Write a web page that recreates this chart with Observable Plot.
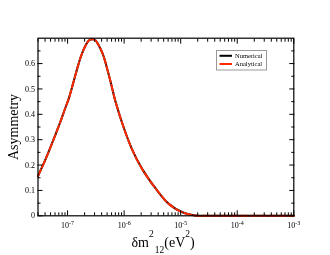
<!DOCTYPE html>
<html><head><meta charset="utf-8">
<script src="https://cdn.jsdelivr.net/npm/d3@7"></script>
<script src="https://cdn.jsdelivr.net/npm/@observablehq/plot@0.6"></script>
<style>body{margin:0;background:#fff}#chart svg{display:block}#chart{will-change:transform}</style>
</head><body><div id="chart"></div>
<script>
// δm²₁₂ values (eV²)
const deltaM = [3.0e-8, 4.07e-8, 5.37e-8, 7.59e-8, 8.92e-8, 1.05e-7, 1.25e-7, 1.48e-7, 1.75e-7, 2.09e-7,
  2.38e-7, 2.75e-7, 3.13e-7, 3.55e-7, 4.25e-7, 5.01e-7, 5.96e-7, 7.08e-7, 1.0e-6, 1.38e-6, 2.09e-6,
  3.63e-6, 6.17e-6, 1.07e-5, 1.82e-5, 3.16e-5, 1e-4, 1e-3];
const numerical = [0.157, 0.222, 0.288, 0.375, 0.419, 0.462, 0.521, 0.58, 0.632, 0.672,
  0.691, 0.696, 0.691, 0.672, 0.634, 0.58, 0.515, 0.448, 0.343, 0.262, 0.184,
  0.107, 0.047, 0.014, 0.001, 0.0, 0.0, 0.0];
const analytical = [0.157, 0.222, 0.288, 0.375, 0.419, 0.462, 0.521, 0.58, 0.632, 0.672,
  0.691, 0.696, 0.691, 0.672, 0.634, 0.58, 0.515, 0.448, 0.343, 0.262, 0.184,
  0.107, 0.047, 0.014, 0.001, 0.0, 0.0, 0.0];
const seriesNames = ["Numerical", "Analytical"];
const xMajorTicks = [1e-7, 1e-6, 1e-5, 1e-4, 1e-3];
const yTicks = [0, 0.1, 0.2, 0.3, 0.4, 0.5, 0.6];
const yMinorTicks = [0.05, 0.15, 0.25, 0.35, 0.45, 0.55, 0.65];
const xMinorTicks = [];
for (let d = -8; d <= -4; d++) for (let k = 2; k <= 9; k++) {
  const v = k * Math.pow(10, d);
  if (v >= 3e-8 && v <= 1e-3) xMinorTicks.push(v);
}

const numRows = deltaM.map((x, i) => ({x, y: numerical[i]}));
const anaRows = deltaM.map((x, i) => ({x, y: analytical[i]}));

const W = 330, H = 255;
const mL = 37.5, mR = 36.7, mT = 37.7, mB = 39.7;
const fmt = d => "10^" + Math.round(Math.log10(d));
const tickOpts = {text: null, label: null, stroke: "#000"};

const chart = Plot.plot({
  width: W, height: H,
  marginLeft: mL, marginRight: mR, marginTop: mT, marginBottom: mB,
  style: {fontFamily: "Liberation Serif", fontSize: "8px", color: "#000", background: "#fff"},
  x: {type: "log", domain: [3e-8, 1e-3], label: null},
  y: {domain: [0, 0.7], label: null},
  marks: [
    Plot.line(numRows, {x: "x", y: "y", stroke: "#000", strokeWidth: 2, curve: "catmull-rom"}),
    Plot.line(anaRows, {x: "x", y: "y", stroke: "#ff2a00", strokeWidth: 2, strokeDasharray: "7,2.5", curve: "catmull-rom"}),
    Plot.frame({stroke: "#000", strokeWidth: 1.2}),
    Plot.axisX(xMajorTicks, {anchor: "bottom", tickSize: 0, tickPadding: 7, tickFormat: fmt, label: null, fill: "#000"}),
    Plot.axisX(xMajorTicks, {anchor: "bottom", tickSize: -5, ...tickOpts}),
    Plot.axisX(xMajorTicks, {anchor: "top", tickSize: -5, ...tickOpts}),
    Plot.axisX(xMinorTicks, {anchor: "bottom", tickSize: -3, ...tickOpts}),
    Plot.axisX(xMinorTicks, {anchor: "top", tickSize: -3, ...tickOpts}),
    Plot.axisY(yTicks, {anchor: "left", tickSize: 0, tickPadding: 3, label: null, fill: "#000",
      tickFormat: d => d === 0 ? "0" : d.toFixed(1)}),
    Plot.axisY(yTicks, {anchor: "left", tickSize: -5, ...tickOpts}),
    Plot.axisY(yTicks, {anchor: "right", tickSize: -5, ...tickOpts}),
    Plot.axisY(yMinorTicks, {anchor: "left", tickSize: -3, ...tickOpts}),
    Plot.axisY(yMinorTicks, {anchor: "right", tickSize: -3, ...tickOpts})
  ]
});
document.getElementById("chart").appendChild(chart);

const svg = d3.select(chart);
// superscripts on tick labels
svg.selectAll("text").each(function() {
  const t = this.textContent;
  if (t.includes("^")) {
    const [base, exp] = t.split("^");
    const el = d3.select(this);
    el.text("");
    el.append("tspan").text(base);
    el.append("tspan").attr("font-size", 6).attr("dy", "-0.6em").text(exp);
  }
});

// y axis label
svg.append("text")
  .attr("transform", `translate(18,127) rotate(-90)`)
  .attr("text-anchor", "middle")
  .attr("font-family", "Liberation Serif").attr("font-size", 14).attr("fill", "#000")
  .text("Asymmetry");

// x axis label  δm²₁₂(eV²)
const xl = svg.append("text")
  .attr("x", 131.5).attr("y", 246.5).attr("text-anchor", "start")
  .attr("font-family", "Liberation Serif").attr("font-size", 14).attr("fill", "#000");
xl.append("tspan").text("δm");
xl.append("tspan").attr("font-size", 9.5).attr("dy", -10).text("2");
xl.append("tspan").attr("font-size", 9.5).attr("dx", 1).attr("dy", 16.5).text("12");
xl.append("tspan").attr("dy", -6.5).text("(eV");
xl.append("tspan").attr("font-size", 9.5).attr("dy", -10).text("2");
xl.append("tspan").attr("dy", 10).text(")");

// legend
const lg = svg.append("g");
lg.append("rect").attr("x", 216.5).attr("y", 50.5).attr("width", 50).attr("height", 19.5)
  .attr("fill", "#fff").attr("stroke", "#999").attr("stroke-width", 1);
const legendColors = ["#000", "#ff2a00"];
seriesNames.forEach((name, i) => {
  const yy = 55.8 + i * 8.2;
  lg.append("line").attr("x1", 219.5).attr("x2", 232).attr("y1", yy).attr("y2", yy)
    .attr("stroke", legendColors[i]).attr("stroke-width", 2);
  lg.append("text").attr("x", 235).attr("y", yy + 2.2).attr("text-anchor", "start")
    .attr("font-family", "Liberation Serif").attr("font-size", 6.5).attr("fill", "#000").text(name);
});
</script>
</body></html>
